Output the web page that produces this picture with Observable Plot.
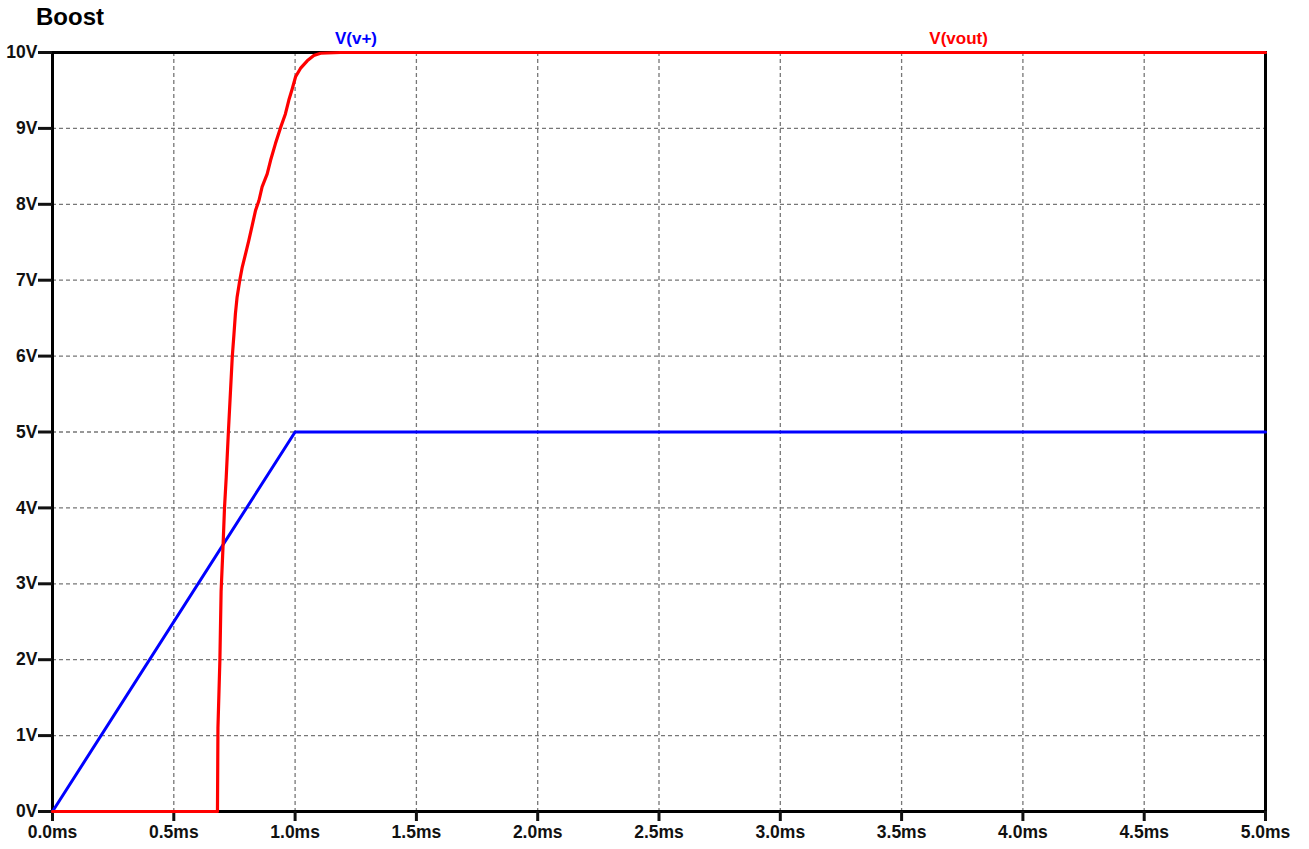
<!DOCTYPE html>
<html>
<head>
<meta charset="utf-8">
<script src="https://cdn.jsdelivr.net/npm/d3@7"></script>
<script src="https://cdn.jsdelivr.net/npm/@observablehq/plot@0.6"></script>
<style>
  body { margin: 0; background: #fff; }
  #wrap { position: relative; width: 1309px; height: 849px; }
  #title { position: absolute; left: 36px; top: 5px; font: bold 24px/1 "Liberation Sans", Arial, sans-serif; color: #000; }
  #chart { position: absolute; left: 0; top: 0; }
</style>
</head>
<body>
<div id="wrap">
  <div id="chart"></div>
  <div id="title">Boost</div>
</div>
<script>
// V(v+) trace
const vplusT = [0, 1.0, 5.0];
const vplusV = [0, 5.0, 5.0];
// V(vout) trace
const voutT = [0, 0.680, 0.682, 0.690, 0.695, 0.703, 0.709, 0.716, 0.725, 0.741, 0.748, 0.754, 0.761, 0.772, 0.782, 0.796, 0.809, 0.823, 0.837, 0.851, 0.864, 0.885, 0.899, 0.919, 0.940, 0.960, 0.974, 0.988, 1.002, 1.022, 1.050, 1.077, 1.105, 1.187, 5.0];
const voutV = [0, 0, 1.1, 2.0, 2.9, 3.5, 4.0, 4.4, 5.0, 5.99, 6.29, 6.56, 6.78, 7.0, 7.17, 7.35, 7.52, 7.72, 7.92, 8.05, 8.23, 8.40, 8.58, 8.80, 9.01, 9.19, 9.37, 9.52, 9.68, 9.79, 9.89, 9.96, 9.99, 10.0, 10.0];
// tick labels
const xTicks = [0, 0.5, 1.0, 1.5, 2.0, 2.5, 3.0, 3.5, 4.0, 4.5, 5.0];
const yTicks = [0, 1, 2, 3, 4, 5, 6, 7, 8, 9, 10];
// trace labels
const labelNames = ["V(v+)", "V(vout)"];
const labelT = [1.251, 3.735];
const labelColors = ["#0000ff", "#ff0000"];

const vplus = vplusT.map((t, i) => ({t, v: vplusV[i]}));
const vout = voutT.map((t, i) => ({t, v: voutV[i]}));
const labels = labelNames.map((name, i) => ({name, t: labelT[i], color: labelColors[i]}));

const plot = Plot.plot({
  width: 1309,
  height: 849,
  marginLeft: 52,
  marginRight: 44,
  marginTop: 52,
  marginBottom: 38,
  x: {domain: [0, 5], label: null},
  y: {domain: [0, 10], label: null},
  style: {fontFamily: "'Liberation Sans', Arial, sans-serif", fontWeight: "bold", fontSize: "17.5px", color: "#111", background: "#fff", overflow: "visible"},
  marks: [
    Plot.gridX(xTicks.filter(d => d > 0 && d < 5), {stroke: "#777", strokeOpacity: 1, strokeWidth: 1.3, strokeDasharray: "4,3"}),
    Plot.gridY(yTicks.filter(d => d > 0 && d < 10), {stroke: "#777", strokeOpacity: 1, strokeWidth: 1.3, strokeDasharray: "4,3"}),
    Plot.frame({stroke: "#000", strokeWidth: 3}),
    Plot.axisX(xTicks, {tickSize: 10, strokeWidth: 3, tickPadding: 4, tickFormat: d => d.toFixed(1) + "ms", fill: "#111", fontSize: 17.5}),
    Plot.axisY(yTicks, {tickSize: 14, strokeWidth: 3, tickPadding: 1, tickFormat: d => d + "V", fill: "#111", fontSize: 17.5}),
    Plot.line(vplus, {x: "t", y: "v", stroke: "#0000ff", strokeWidth: 3}),
    Plot.line(vout, {x: "t", y: "v", stroke: "#ff0000", strokeWidth: 3.2}),
    Plot.text(labels, {x: "t", text: "name", fill: "color", frameAnchor: "top", lineAnchor: "middle", dy: -14, fontSize: 17, fontWeight: "bold"})
  ]
});
document.getElementById("chart").appendChild(plot);
</script>
</body>
</html>
